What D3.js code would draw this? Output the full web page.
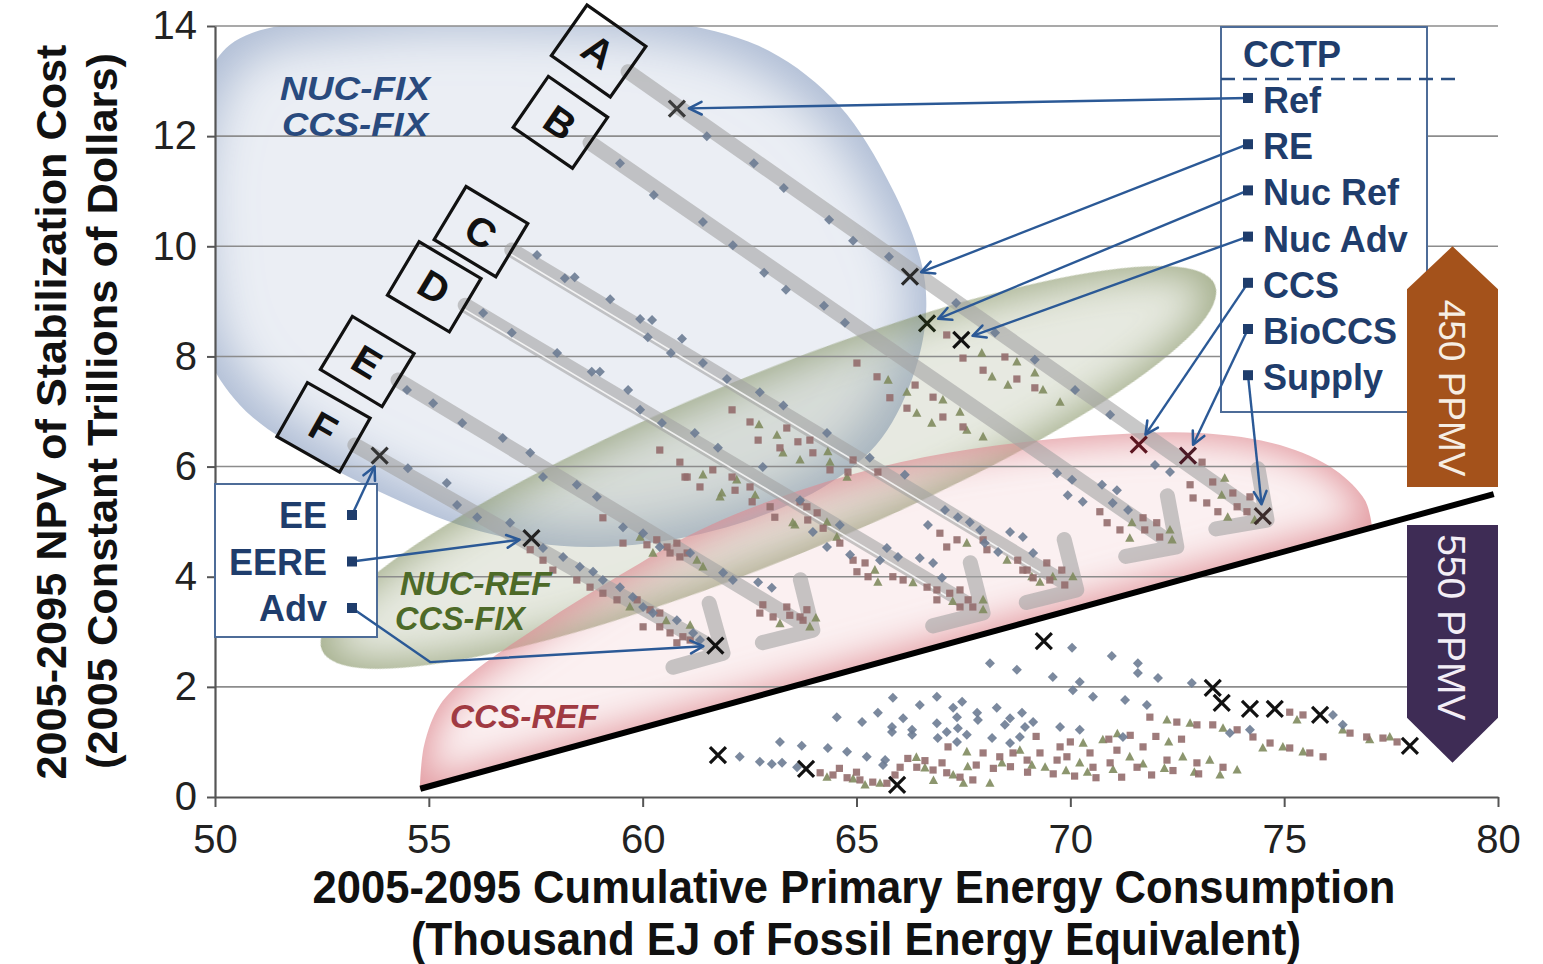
<!DOCTYPE html>
<html>
<head>
<meta charset="utf-8">
<script src="https://cdn.jsdelivr.net/npm/d3@7"></script>
<style>
  html, body { margin: 0; padding: 0; background: #fff; }
  svg { display: block; }
</style>
</head>
<body>
<svg id="chart" width="1543" height="964"></svg>
<script>
// ---------------- data ----------------
const xTicks = [50, 55, 60, 65, 70, 75, 80];
const yTicks = [0, 2, 4, 6, 8, 10, 12, 14];

// 450 ppmv scenario points (thousand EJ, trillion $)
const diamonds450 = [
  [61.50,12.00],[62.60,11.51],[63.30,11.06],[64.36,10.48],[64.92,10.10],[65.76,9.81],[67.33,8.97],[68.24,8.43],
  [69.17,7.94],[70.11,7.39],[70.93,6.94],[71.98,6.03],[72.33,5.90],
  [59.47,11.51],[60.26,10.93],[61.41,10.44],[62.11,10.02],[62.84,9.52],[63.35,9.21],[64.24,8.92],[64.73,8.61],
  [69.69,5.88],[70.04,5.76],[69.94,5.48],[70.29,5.36],[70.74,5.67],[71.09,5.57],[70.99,5.34],[71.35,5.21],
  [57.53,9.84],[58.18,9.42],[58.41,9.44],[59.24,9.04],[59.94,8.68],[60.22,8.66],[60.92,8.32],[60.12,8.35],
  [60.66,8.06],[61.41,7.88],[61.97,7.59],[62.74,7.35],[63.29,7.11],[64.31,6.61],[65.31,6.16],[66.13,5.85],
  [67.07,5.21],[67.37,5.08],[67.65,4.99],[67.89,4.85],[66.67,4.94],[68.59,4.81],[68.89,4.72],[68.00,4.61],
  [68.31,4.45],[69.13,4.43],[66.48,4.34],[66.79,4.25],[67.00,3.98],[65.71,4.52],[65.97,4.36],
  [56.27,8.79],[56.94,8.43],[58.00,8.06],[58.81,7.72],[59.00,7.72],[59.66,7.39],[59.94,7.03],[60.45,6.79],
  [61.22,6.61],[61.76,6.34],[62.81,5.99],[63.68,5.39],[64.61,4.94],[63.98,4.81],[64.31,4.54],[64.85,4.40],[65.55,4.30],
  [54.49,7.39],[55.10,7.15],[55.78,6.79],[56.73,6.52],[57.37,6.25],[57.67,5.81],[58.46,5.67],[58.93,5.45],
  [59.54,4.90],[60.01,4.79],[60.40,4.54],[61.11,4.43],[61.88,4.07],[62.11,3.94],[62.70,3.90],[63.02,3.80],
  [54.51,5.97],[55.42,5.70],[55.66,5.30],[56.13,5.08],[56.90,4.98],[57.67,4.52],[58.14,4.36],[58.53,4.18],
  [58.84,4.09],[59.07,3.94],[59.47,3.81],[59.77,3.63],[60.01,3.45],[60.24,3.34],[60.80,3.21],[61.18,2.98],[61.34,2.85]
];
const squares450 = [
  [60.40,6.30],[60.87,6.08],[61.04,5.81],[61.34,5.63],[61.64,5.94],[59.07,5.07],[59.54,4.61],[60.10,4.58],
  [60.33,4.67],[60.57,4.54],[60.64,4.43],[60.87,4.36],[60.80,4.61],[61.04,4.43],[57.37,4.49],[57.67,4.30],
  [57.90,4.12],[58.46,3.94],[58.77,3.81],[59.07,3.70],[59.40,3.58],[59.87,3.58],[60.17,3.40],[60.40,3.34],
  [60.01,3.09],[60.40,3.09],[60.64,2.98],[60.94,2.91],[60.80,2.80],[61.11,2.85],
  [62.81,3.49],[62.74,3.34],[63.05,3.27],[63.37,3.45],[63.44,3.30],[63.68,3.27],[63.84,3.40],[63.75,3.21],
  [63.86,5.03],[64.22,4.88],[64.92,4.30],[65.20,4.25],[65.01,4.09],[65.27,4.00],[65.85,4.00],[66.09,3.94],
  [66.65,3.81],[66.88,3.76],[66.88,3.58],[67.18,3.70],[67.42,3.76],[67.61,3.58],[67.42,3.45],[67.72,3.45],
  [66.95,4.79],[67.11,4.54],[67.35,4.67],[67.96,4.67],[68.05,4.49],[68.89,4.12],[69.13,3.98],[69.52,3.94],
  [68.77,4.30],[68.99,4.12],[69.45,4.25],[69.80,4.12],[69.87,3.85],
  [70.69,5.18],[70.86,4.98],[71.16,4.85],[71.70,5.07],[71.74,4.85],[72.02,4.98],[72.09,4.72],
  [73.08,6.08],[72.80,5.67],[73.33,5.72],[72.87,5.43],[73.19,5.34],[73.80,5.52],[73.45,5.18],[73.90,5.27],
  [74.20,5.45],[74.13,5.18],
  [65.01,7.88],[65.48,7.63],[65.78,7.25],[66.37,7.48],[66.79,7.26],[66.18,7.06],[67.02,6.90],[67.49,6.72],
  [67.11,8.39],[67.49,7.97],[68.47,7.99],[67.96,7.75],[68.75,7.59],[69.17,7.43],
  [62.09,7.03],[62.51,6.81],[62.70,6.48],[63.37,6.70],[63.63,6.45],[63.91,6.48],[63.21,6.34],[63.98,6.25],
  [64.38,5.94],[64.80,5.90],[64.92,6.12],[65.50,5.90],[60.99,5.81],[62.09,5.81],[62.16,5.57],[62.51,5.63],
  [62.56,5.36],[62.98,5.27],[63.09,5.08],[63.68,5.36],[63.84,5.27],[64.08,5.16],[64.61,4.61]
];
const triangles450 = [
  [61.41,5.85],[61.81,5.45],[59.94,4.72],[60.24,4.43],[61.27,4.30],[61.41,4.18],[59.70,3.45],[60.55,3.20],
  [61.11,3.12],[63.21,3.15],[63.91,3.09],[64.05,3.25],[63.51,4.98],
  [65.43,4.12],[65.50,3.90],[66.32,3.89],[67.25,3.55],[67.96,3.58],[67.96,3.40],[67.58,4.61],[68.52,4.30],
  [69.29,3.90],[69.10,4.00],[69.59,4.00],[70.06,4.00],
  [71.44,4.98],[72.33,4.85],[72.38,4.67],[71.39,4.70],
  [73.54,5.48],[73.68,5.08],[74.31,5.03],[73.61,5.79],
  [65.74,7.57],[66.18,7.35],[67.02,7.21],[66.41,6.97],[66.76,6.79],[67.42,6.99],[67.96,6.54],[67.93,8.06],
  [68.75,7.90],[68.17,7.63],[68.54,7.48],[69.17,7.70],[69.36,7.39],[69.76,7.17],[67.58,6.66],
  [62.72,6.76],[63.14,6.57],[63.28,6.25],[63.68,6.12],[64.33,6.27],[64.38,6.08],[64.78,5.81],[62.20,5.76],
  [61.85,5.52],[62.63,5.48],[63.56,4.94],[64.31,4.99],[64.54,4.72]
];

// 550 ppmv scenario points
const diamonds550 = [
  [62.27,0.73],[62.74,0.64],[63.02,0.60],[63.26,0.62],[63.21,1.00],[63.72,0.93],[63.61,0.54],[64.33,0.89],
  [64.78,0.82],[65.24,0.73],[65.67,0.67],[65.62,0.58],[64.54,1.45],[65.13,1.36],[65.50,1.53],[65.85,1.80],
  [66.09,1.43],[65.83,1.27],[65.83,1.18],[66.30,1.22],[66.30,1.13],[66.48,1.67],[66.88,1.82],[66.88,1.34],
  [67.26,1.62],[67.47,1.73],[67.35,1.45],[67.37,1.25],[67.11,1.18],[66.90,1.07],[67.35,1.00],[67.58,1.13],
  [67.82,1.53],[67.84,1.40],[68.17,1.07],[68.28,1.62],[68.59,1.43],[68.47,1.31],[68.87,1.53],[68.94,1.27],
  [69.13,1.36],[68.59,0.98],[68.82,1.09],[69.76,1.27],[70.22,1.22],[70.53,1.82],[69.59,2.18],[70.06,1.94],
  [70.22,2.09],[70.04,2.71],[68.75,2.31],[68.12,2.43],[70.97,2.56],[71.58,2.43],[71.58,2.25],[72.05,2.16],
  [72.84,2.07],[71.28,1.76],[71.79,1.67],[71.23,1.09],[73.73,1.16],[74.20,1.22],[76.14,1.49],[76.37,1.31]
];
const squares550 = [
  [64.15,0.44],[64.45,0.40],[64.78,0.35],[65.08,0.31],[65.38,0.27],[65.71,0.25],[66.02,0.54],[66.41,0.54],
  [66.79,0.49],[67.11,0.44],[67.42,0.36],[67.72,0.31],[67.14,0.91],[67.96,0.80],[68.66,0.80],[69.29,0.80],
  [69.92,0.73],[70.53,0.54],[69.76,0.91],[70.46,0.80],[71.09,0.85],[71.70,0.91],[72.26,0.67],[72.96,0.62],
  [73.57,0.54],[69.69,0.67],[70.93,0.62],[71.56,0.54],[72.49,1.36],[72.96,1.31],[73.33,1.31],[73.90,1.22],
  [74.27,1.09],[74.67,0.98],[75.13,0.89],[75.60,0.80],[75.91,0.73],[75.13,1.54],[75.44,1.49],[76.54,1.16],
  [76.93,1.09],[77.31,1.07],[77.64,1.00],[71.86,1.45],[68.35,0.73],[68.99,0.67],
  [66.20,0.70],[66.60,0.66],[67.00,0.62],[67.80,0.58],[68.20,0.52],[68.60,0.55],[69.00,0.45],[69.60,0.42],
  [70.10,0.38],[70.60,0.35],[71.20,0.36],[71.90,0.40],[72.40,0.48],[73.00,0.42],[70.00,1.00],[70.90,1.05],
  [71.40,1.12],[72.00,1.10],[72.60,1.05],[69.20,1.10],[64.60,0.52],[65.00,0.45],[65.90,0.40]
];
const triangles550 = [
  [64.31,0.36],[64.92,0.33],[65.55,0.25],[66.60,0.53],[67.26,0.40],[68.12,0.25],[67.58,0.82],[70.22,0.62],
  [70.76,1.04],[71.39,0.73],[72.63,0.73],[73.26,0.67],[73.90,0.49],[72.80,1.34],[73.57,1.25],[74.50,0.89],
  [74.97,0.91],[75.44,0.82],[75.30,1.40],[76.37,1.22],[77.00,1.04],[77.47,1.09],[72.26,1.40],[69.41,0.54],
  [68.82,0.85],
  [66.40,0.72],[67.60,0.55],[68.40,0.62],[69.10,0.58],[69.90,0.48],[70.40,0.45],[71.00,0.50],[71.70,0.60],
  [72.20,0.52],[72.90,0.45],[73.50,0.40],[70.30,0.98],[71.10,1.15],[72.30,1.00],[65.20,0.22],[66.80,0.30],[67.50,0.25]
];

// Highlighted cases (×)
const cctpCases   = ["Ref", "RE", "Nuc Ref", "Nuc Adv", "CCS", "BioCCS", "Supply"];
const cctpCrosses = [[60.8,12.5],[66.25,9.45],[66.65,8.6],[67.45,8.3],[71.6,6.4],[72.75,6.2],[74.5,5.1]];
const effCases    = ["EE", "EERE", "Adv"];
const effCrosses  = [[53.85,6.2],[57.4,4.7],[61.7,2.75]];
const crosses550  = [[61.76,0.76],[63.82,0.51],[65.95,0.22],[69.38,2.83],[73.33,1.98],[73.54,1.71],
                     [74.2,1.6],[74.78,1.6],[75.84,1.49],[77.94,0.93]];

// Technology pathways A–F (start and end of each trend arrow)
const pathLabels = ["A", "B", "C", "D", "E", "F"];
const pathStarts = [[59.66,13.17],[58.77,11.88],[56.94,9.93],[55.85,8.93],[54.28,7.57],[53.27,6.39]];
const pathEnds   = [[74.60,5.03],[72.49,4.54],[70.15,3.76],[67.96,3.34],[63.98,3.03],[61.88,2.61]];
const pathDoubled = ["C", "D"];

// Boundary between the 450 and 550 ppmv results
const boundary = [[54.8,0.15],[79.9,5.5]];

// Outlines of the shaded scenario families
const nucFixOutline = [
  [58.07,14.20],[60.87,14.04],[62.95,13.55],[64.60,12.55],[65.80,11.10],[66.50,9.75],[66.63,8.85],
  [66.37,7.75],[65.59,6.52],[64.38,5.70],[62.51,5.03],[60.17,4.61],[58.07,4.56],[55.96,4.88],[53.86,5.54],
  [51.99,6.30],[50.58,7.12],[49.77,8.12],[49.42,9.93],[49.53,12.29],[50.35,13.66],[53.16,14.15]
];
const nucRefEnds = [[52.50,2.67],[73.38,9.30]];
const ccsRefTop = [
  [54.79,0.13],[54.89,0.94],[55.26,1.67],[55.96,2.22],[57.60,3.12],[59.47,4.03],[61.34,4.85],[63.68,5.57],
  [66.02,6.08],[68.35,6.39],[70.69,6.57],[73.03,6.61],[74.90,6.39],[76.19,5.94],[76.89,5.39],[77.05,4.94]
];

// ---------------- drawing ----------------
const svg = d3.select("#chart");
const defs = svg.append("defs");
const plot = { left: 215, right: 1498, top: 26, bottom: 797 };
const x = d3.scaleLinear().domain([50, 80]).range([plot.left, plot.right]);
const y = d3.scaleLinear().domain([0, 14]).range([plot.bottom, plot.top]);
const P = d => [x(d[0]), y(d[1])];

const FONT = "'Liberation Sans', Arial, Helvetica, sans-serif";
const NARROW = "'Liberation Sans Narrow', 'Arial Narrow', 'Liberation Sans', Arial, sans-serif";
const NAVY = "#1f3d6c";
const LEADER = "#2b5996";

svg.append("rect").attr("width", 1543).attr("height", 964).attr("fill", "#fff");

defs.append("clipPath").attr("id", "plotClip").append("rect")
  .attr("x", plot.left).attr("y", plot.top)
  .attr("width", plot.right - plot.left).attr("height", plot.bottom - plot.top);

// soft inner-glow fill: colour at the rim, fading to clear inside
function glowFilter(id, erode, blur) {
  const f = defs.append("filter").attr("id", id)
    .attr("x", "-10%").attr("y", "-10%").attr("width", "120%").attr("height", "120%");
  f.append("feMorphology").attr("in", "SourceAlpha").attr("operator", "erode")
    .attr("radius", erode).attr("result", "er");
  f.append("feGaussianBlur").attr("in", "er").attr("stdDeviation", blur).attr("result", "bl");
  f.append("feComposite").attr("in", "SourceGraphic").attr("in2", "bl").attr("operator", "out");
}
glowFilter("glowBlue", 16, 24);
glowFilter("glowGreen", 6, 20);
glowFilter("glowPink", 6, 18);

// leader arrowhead
defs.append("marker").attr("id", "leadArrow")
  .attr("viewBox", "0 0 16 16").attr("refX", 14).attr("refY", 8)
  .attr("markerWidth", 17).attr("markerHeight", 17)
  .attr("markerUnits", "userSpaceOnUse").attr("orient", "auto")
  .append("path").attr("d", "M2,2 L14,8 L2,14")
  .attr("fill", "none").attr("stroke", LEADER).attr("stroke-width", 2.4)
  .attr("stroke-linecap", "round").attr("stroke-linejoin", "round");

// ---- shaded scenario families ----
const regions = svg.append("g").attr("clip-path", "url(#plotClip)");

regions.append("path")
  .attr("d", d3.line().curve(d3.curveCatmullRomClosed)(nucFixOutline.map(P)))
  .attr("fill", "#93a6c6").attr("fill-opacity", 0.75)
  .attr("filter", "url(#glowBlue)");

{
  const a = P(nucRefEnds[0]), b = P(nucRefEnds[1]);
  const cx = (a[0] + b[0]) / 2, cy = (a[1] + b[1]) / 2;
  const rx = Math.hypot(b[0] - a[0], b[1] - a[1]) / 2;
  const ang = Math.atan2(b[1] - a[1], b[0] - a[0]) * 180 / Math.PI;
  regions.append("ellipse")
    .attr("cx", 0).attr("cy", 0).attr("rx", rx).attr("ry", 92)
    .attr("transform", `translate(${cx},${cy}) rotate(${ang})`)
    .attr("fill", "#808f5f").attr("fill-opacity", 0.74)
    .attr("filter", "url(#glowGreen)");
}

regions.append("path")
  .attr("d", d3.line().curve(d3.curveCatmullRom)(ccsRefTop.map(P)) + "Z")
  .attr("fill", "#de8990").attr("fill-opacity", 0.85)
  .attr("filter", "url(#glowPink)");

// ---- gridlines ----
svg.append("g").selectAll("line").data(yTicks.filter(v => v > 0)).join("line")
  .attr("x1", plot.left).attr("x2", plot.right)
  .attr("y1", d => y(d)).attr("y2", d => y(d))
  .attr("stroke", "#8c8c8c").attr("stroke-width", 1.6);

// ---- axes ----
const yAxis = svg.append("g").attr("transform", `translate(${plot.left},0)`)
  .call(d3.axisLeft(y).tickValues(yTicks).tickSize(8).tickSizeOuter(0).tickPadding(10));
const xAxis = svg.append("g").attr("transform", `translate(0,${plot.bottom})`)
  .call(d3.axisBottom(x).tickValues(xTicks).tickSize(10).tickSizeOuter(0).tickPadding(18));
[yAxis, xAxis].forEach(g => {
  g.select(".domain").attr("stroke", "#555").attr("stroke-width", 2.2);
  g.selectAll(".tick line").attr("stroke", "#555").attr("stroke-width", 2);
  g.selectAll(".tick text").attr("font-family", FONT).attr("font-size", 40).attr("fill", "#222");
});

// axis titles
const xt = svg.append("g").attr("font-family", NARROW).attr("font-weight", "bold")
  .attr("font-size", 46).attr("fill", "#111").attr("text-anchor", "middle");
xt.append("text").attr("x", 854).attr("y", 903).attr("textLength", 1083)
  .attr("lengthAdjust", "spacingAndGlyphs").text("2005-2095 Cumulative Primary Energy Consumption");
xt.append("text").attr("x", 856).attr("y", 955).attr("textLength", 890)
  .attr("lengthAdjust", "spacingAndGlyphs").text("(Thousand EJ of Fossil Energy Equivalent)");
const yt = svg.append("g").attr("font-family", NARROW).attr("font-weight", "bold")
  .attr("font-size", 43).attr("fill", "#111").attr("text-anchor", "middle");
yt.append("text").attr("transform", "translate(66,412) rotate(-90)").attr("textLength", 735)
  .attr("lengthAdjust", "spacingAndGlyphs").text("2005-2095 NPV of Stabilization Cost");
yt.append("text").attr("transform", "translate(117,411) rotate(-90)").attr("textLength", 716)
  .attr("lengthAdjust", "spacingAndGlyphs").text("(2005 Constant Trillions of Dollars)");

// ---- pathway arrows A–F ----
const paths = svg.append("g");
pathLabels.forEach((lab, i) => {
  const p0 = P(pathStarts[i]), p1 = P(pathEnds[i]);
  const dx = p1[0] - p0[0], dy = p1[1] - p0[1], len = Math.hypot(dx, dy);
  const ux = dx / len, uy = dy / len;
  const ang = Math.atan2(dy, dx);
  const back = ang + Math.PI, arm = 52;
  const a1 = [p1[0] + arm * Math.cos(back - Math.PI / 4), p1[1] + arm * Math.sin(back - Math.PI / 4)];
  const a2 = [p1[0] + arm * Math.cos(back + Math.PI / 4), p1[1] + arm * Math.sin(back + Math.PI / 4)];
  paths.append("g").attr("opacity", 0.6)
    .append("path")
    .attr("d", `M${p0[0]},${p0[1]}L${p1[0]},${p1[1]}M${a1[0]},${a1[1]}L${p1[0]},${p1[1]}L${a2[0]},${a2[1]}`)
    .attr("fill", "none").attr("stroke", "#a3a3a3").attr("stroke-width", 15)
    .attr("stroke-linecap", "round").attr("stroke-linejoin", "round");

  if (pathDoubled.includes(lab)) {
    // thin light seam running along the lower side of the band
    const nx = -uy, ny = ux, off = 4;
    const q0 = [p0[0] + nx * off, p0[1] + ny * off];
    const q1 = [p1[0] - 40 * ux + nx * off, p1[1] - 40 * uy + ny * off];
    paths.append("line").attr("x1", q0[0]).attr("y1", q0[1]).attr("x2", q1[0]).attr("y2", q1[1])
      .attr("stroke", "#fff").attr("stroke-opacity", 0.8).attr("stroke-width", 1.6);
  }

  const bc = [p0[0] - 36 * ux, p0[1] - 36 * uy];
  const deg = ang * 180 / Math.PI;
  const box = paths.append("g").attr("transform", `translate(${bc[0]},${bc[1]}) rotate(${deg})`);
  box.append("rect").attr("x", -36).attr("y", -31).attr("width", 72).attr("height", 62)
    .attr("fill", "none").attr("stroke", "#111").attr("stroke-width", 3.2);
  box.append("text").attr("text-anchor", "middle").attr("dy", "0.36em")
    .attr("font-family", FONT).attr("font-weight", "bold").attr("font-size", 40)
    .attr("fill", "#111").text(lab);
});

// ---- 450 / 550 boundary ----
svg.append("line")
  .attr("x1", x(boundary[0][0])).attr("y1", y(boundary[0][1]))
  .attr("x2", x(boundary[1][0])).attr("y2", y(boundary[1][1]))
  .attr("stroke", "#000").attr("stroke-width", 6);

// ---- scenario points ----
const diamondPath = "M0,-5L5,0L0,5L-5,0Z";
const squarePath = "M-3.6,-3.6H3.6V3.6H-3.6Z";
const trianglePath = "M0,-5L4.6,3.6H-4.6Z";
function drawPoints(data, shape, color) {
  svg.append("g").selectAll("path").data(data).join("path")
    .attr("d", shape)
    .attr("transform", d => `translate(${x(d[0])},${y(d[1])})`)
    .attr("fill", color).attr("fill-opacity", 0.9);
}
drawPoints(triangles450, trianglePath, "#7f8b5e");
drawPoints(triangles550, trianglePath, "#7f8b5e");
drawPoints(squares450, squarePath, "#946d6d");
drawPoints(squares550, squarePath, "#946d6d");
drawPoints(diamonds450, diamondPath, "#6d7c93");
drawPoints(diamonds550, diamondPath, "#6d7c93");

// ---- highlighted cases ----
const crossPath = "M-8,-8L8,8M-8,8L8,-8";
const cctpCrossColors = ["#3b3b3b", "#2a2a2a", "#1d2614", "#111", "#5c1620", "#4b1a26", "#3b2b2b"];
function drawCrosses(data, colors) {
  svg.append("g").selectAll("path").data(data).join("path")
    .attr("d", crossPath)
    .attr("transform", d => `translate(${x(d[0])},${y(d[1])})`)
    .attr("stroke", (d, i) => colors[i] || "#111").attr("stroke-width", 3.2).attr("fill", "none");
}
drawCrosses(cctpCrosses, cctpCrossColors);
drawCrosses(effCrosses, ["#333", "#222", "#111"]);
drawCrosses(crosses550, []);

// ---- CCTP legend ----
const lg = { x: 1221, y: 27, w: 206, h: 385, item0: 98, step: 46.2, mx: 1248, tx: 1263 };
svg.append("rect").attr("x", lg.x).attr("y", lg.y).attr("width", lg.w).attr("height", lg.h)
  .attr("fill", "#fff").attr("stroke", "#4d6c98").attr("stroke-width", 2);
svg.append("text").attr("x", 1243).attr("y", 67).attr("font-family", FONT).attr("font-weight", "bold")
  .attr("font-size", 36).attr("fill", NAVY).text("CCTP");
svg.append("line").attr("x1", lg.x).attr("x2", 1456).attr("y1", 79).attr("y2", 79)
  .attr("stroke", "#2b4f82").attr("stroke-width", 2.6).attr("stroke-dasharray", "14,8");

function leader(from, to, via) {
  const pts = [from].concat(via ? [via] : []);
  const last = pts[pts.length - 1];
  const dx = to[0] - last[0], dy = to[1] - last[1], l = Math.hypot(dx, dy);
  const end = [to[0] - 12 * dx / l, to[1] - 12 * dy / l];
  pts.push(end);
  svg.append("path").attr("d", d3.line()(pts))
    .attr("fill", "none").attr("stroke", LEADER).attr("stroke-width", 2.4)
    .attr("marker-end", "url(#leadArrow)");
}

cctpCases.forEach((name, i) => {
  const my = lg.item0 + i * lg.step;
  leader([lg.mx, my], P(cctpCrosses[i]));
  svg.append("rect").attr("x", lg.mx - 5).attr("y", my - 5).attr("width", 10).attr("height", 10).attr("fill", NAVY);
  svg.append("text").attr("x", lg.tx).attr("y", my + 15).attr("font-family", FONT).attr("font-weight", "bold")
    .attr("font-size", 36).attr("fill", NAVY).text(name);
});

// ---- efficiency legend ----
const eg = { x: 215, y: 484, w: 162, h: 153, item0: 515, step: 46.5, mx: 352, tx: 327 };
svg.append("rect").attr("x", eg.x).attr("y", eg.y).attr("width", eg.w).attr("height", eg.h)
  .attr("fill", "#fff").attr("stroke", "#4d6c98").attr("stroke-width", 2);
effCases.forEach((name, i) => {
  const my = eg.item0 + i * eg.step;
  const via = name === "Adv" ? [x(55.03), y(2.45)] : null;
  leader([eg.mx, my], P(effCrosses[i]), via);
  svg.append("rect").attr("x", eg.mx - 5).attr("y", my - 5).attr("width", 10).attr("height", 10).attr("fill", NAVY);
  svg.append("text").attr("x", eg.tx).attr("y", my + 13).attr("text-anchor", "end")
    .attr("font-family", FONT).attr("font-weight", "bold").attr("font-size", 36).attr("fill", NAVY).text(name);
});

// ---- family labels ----
function familyLabel(lines, color, size, x0, y0, gap, widths) {
  lines.forEach((t, i) => {
    svg.append("text").attr("x", x0[i]).attr("y", y0 + i * gap)
      .attr("font-family", FONT).attr("font-weight", "bold").attr("font-style", "italic")
      .attr("font-size", size).attr("fill", color)
      .attr("textLength", widths[i]).attr("lengthAdjust", "spacingAndGlyphs").text(t);
  });
}
familyLabel(["NUC-FIX", "CCS-FIX"], "#294a7e", 33, [280, 282], 100, 36, [150, 146]);
familyLabel(["NUC-REF", "CCS-FIX"], "#4d6a28", 33, [400, 395], 595, 35, [152, 130]);
familyLabel(["CCS-REF"], "#a03a42", 33, [450], 728, 0, [148]);

// ---- concentration target badges ----
const bx0 = x(80) - 91, bx1 = x(80), bxm = (bx0 + bx1) / 2;
const t450 = y(10), b450 = y(5.63);
const t550 = y(4.94), b550 = y(0.62);
svg.append("path")
  .attr("d", `M${bx0},${b450}V${t450 + 43}L${bxm},${t450}L${bx1},${t450 + 43}V${b450}Z`)
  .attr("fill", "#a4521b");
svg.append("path")
  .attr("d", `M${bx0},${t550}H${bx1}V${b550 - 45}L${bxm},${b550}L${bx0},${b550 - 45}Z`)
  .attr("fill", "#3e2c55");
svg.append("text").attr("transform", `translate(${bxm},${(t450 + 43 + b450) / 2}) rotate(90)`)
  .attr("text-anchor", "middle").attr("dy", "0.36em").attr("font-family", FONT)
  .attr("font-size", 37).attr("fill", "#f6eee4").text("450 PPMV");
svg.append("text").attr("transform", `translate(${bxm},${(t550 + b550 - 45) / 2 + 6}) rotate(90)`)
  .attr("text-anchor", "middle").attr("dy", "0.36em").attr("font-family", FONT)
  .attr("font-size", 39).attr("fill", "#f3eef6").text("550 PPMV");
</script>
</body>
</html>
